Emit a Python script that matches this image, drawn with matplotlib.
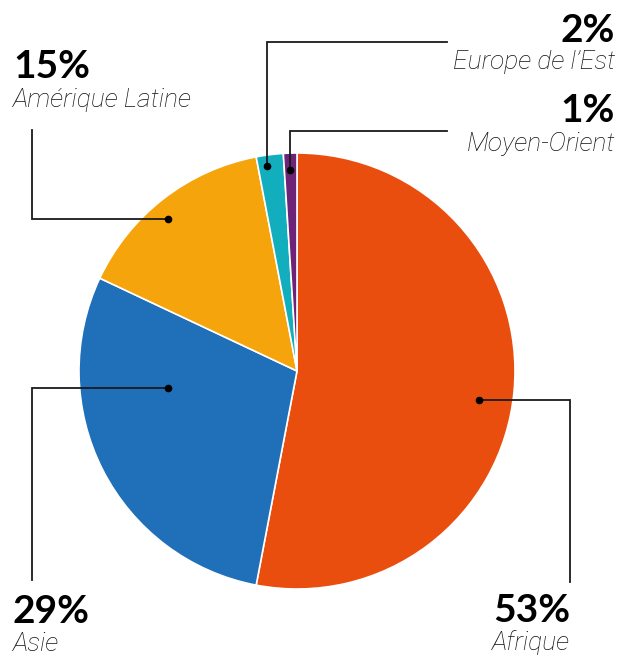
import matplotlib
matplotlib.use("Agg")
import matplotlib.pyplot as plt

# data
regions = ["Afrique", "Asie", "Amérique Latine", "Europe de l’Est", "Moyen-Orient"]
shares = [53, 29, 15, 2, 1]
colors = ["#E94E0F", "#1F70B8", "#F5A40B", "#12AEBE", "#6E2379"]

plt.rcParams['font.family'] = ['Lato', 'DejaVu Sans']

W, H = 630, 660
fig = plt.figure(figsize=(W / 100, H / 100), dpi=100)
ax = fig.add_axes([0, 0, 1, 1])

def py(y):
    # pixel row (from top) -> data y
    return H - y

cx, cy, r = 297, 371, 218
ax.pie(shares, colors=colors, startangle=90, counterclock=False,
       center=(cx, py(cy)), radius=r, frame=True,
       wedgeprops=dict(edgecolor='white', linewidth=1.2))
ax.set_xlim(0, W)
ax.set_ylim(0, H)
ax.set_aspect('equal')
ax.axis('off')

# leader lines: (dot, corner, end) in pixel coords
leaders = {
    "Afrique": [(479, 400), (570, 400), (570, 582)],
    "Asie": [(168, 388), (32, 388), (32, 580)],
    "Amérique Latine": [(168, 219), (32, 219), (32, 130)],
    "Europe de l’Est": [(267, 166), (267, 42), (447, 42)],
    "Moyen-Orient": [(290, 170), (290, 131), (447, 131)],
}
for name, pts in leaders.items():
    xs = [p[0] for p in pts]
    ys = [py(p[1]) for p in pts]
    ax.plot(xs, ys, color='#1a1a1a', linewidth=1.3, solid_joinstyle='miter')
    ax.plot(xs[0], ys[0], 'o', color='black', markersize=4.5)

# label positions: x, baseline of pct, baseline of name, alignment
label_pos = {
    "Afrique": (570, 622, 650, 'right'),
    "Asie": (13, 623, 651, 'left'),
    "Amérique Latine": (13, 78, 107, 'left'),
    "Europe de l’Est": (615, 42, 69, 'right'),
    "Moyen-Orient": (615, 122, 151, 'right'),
}
for name, val in zip(regions, shares):
    x, yp, yn, ha = label_pos[name]
    ax.text(x, py(yp), f"{val}%", fontsize=28, fontweight='bold',
            ha=ha, va='baseline', color='black')
    ax.text(x, py(yn), name, fontsize=19, fontweight='light', style='italic',
            family=['Roboto', 'DejaVu Sans'],
            ha=ha, va='baseline', color='#111111')

fig.savefig("out.png", dpi=100)
